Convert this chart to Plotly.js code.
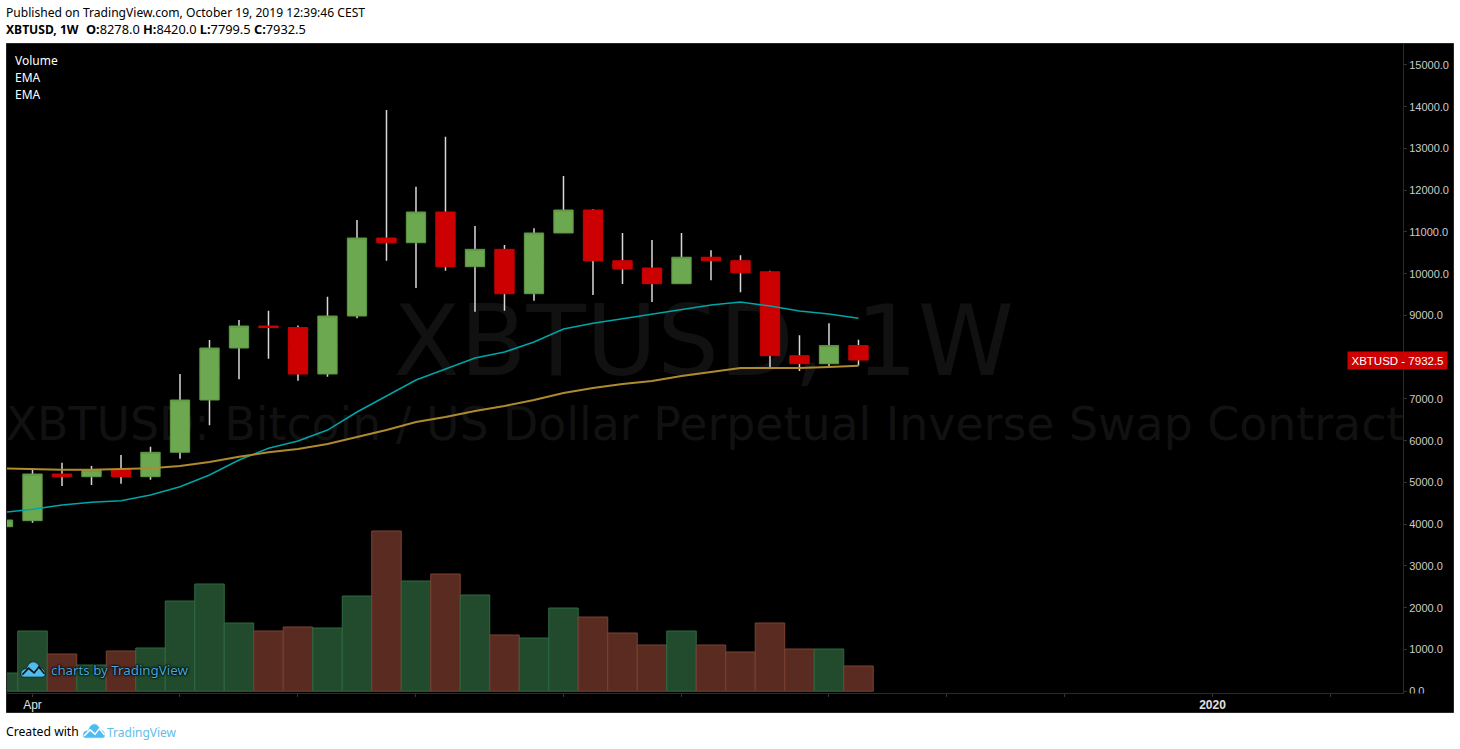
<!DOCTYPE html>
<html>
<head>
<meta charset="utf-8">
<script src="https://cdn.plot.ly/plotly-3.0.1.min.js"></script>
<style>html,body{margin:0;padding:0;background:#fff}</style>
</head>
<body>
<div id="chart" style="width:1460px;height:749px"></div>
<script>
const weeks = ["2019-03-25","2019-04-01","2019-04-08","2019-04-15","2019-04-22","2019-04-29","2019-05-06","2019-05-13","2019-05-20","2019-05-27","2019-06-03","2019-06-10","2019-06-17","2019-06-24","2019-07-01","2019-07-08","2019-07-15","2019-07-22","2019-07-29","2019-08-05","2019-08-12","2019-08-19","2019-08-26","2019-09-02","2019-09-09","2019-09-16","2019-09-23","2019-09-30","2019-10-07","2019-10-14"];
const opens  = [3940,4084,5202,5138,5298,5138,5722,6975,8220,8747,8710,7598,8987,10855,10742,11478,10168,10584,9521,10975,11526,10311,10136,9761,10395,10311,10046,8036,7844,8278];
const highs  = [4100,5346,5473,5394,5657,5856,7598,8412,8891,9114,8760,9449,11286,13921,12084,13281,11143,10687,11087,12340,11545,10976,10806,10976,10563,10443,10070,8527,8815,8420];
const lows   = [3940,4036,4915,4939,4970,5066,5569,6371,7473,7964,7437,7533,8934,10311,9660,10072,9090,9114,9353,10975,9490,9753,9320,9761,9844,9557,7749,7667,7773,7799.5];
const closes = [4100,5202,5138,5298,5138,5722,6975,8220,8747,8710,7598,8987,10855,10742,11478,10168,10584,9521,10975,11526,10311,10113,9761,10395,10311,10024,8036,7844,8278,7932.5];
const volumes = [436,1442,891,628,963,1035,2160,2568,1634,1442,1538,1514,2280,3837,2640,2807,2304,1346,1274,1993,1777,1394,1107,1442,1107,939,1634,1011,1011,604];
const emaFast = [4280,4357,4460,4525,4563,4699,4898,5178,5538,5818,5993,6256,6687,7071,7454,7717,7981,8124,8364,8675,8812,8922,9035,9138,9250,9322,9226,9106,9035,8932];
const emaSlow = [5339,5315,5305,5305,5315,5339,5394,5490,5617,5722,5801,5921,6089,6256,6448,6568,6711,6831,6975,7142,7262,7358,7430,7550,7645,7741,7741,7741,7765,7796];
const dateTicks = ["2019-04-01","2019-05-06","2019-06-03","2019-07-01","2019-08-05","2019-09-02","2019-10-07","2019-11-04","2019-12-02","2020-01-06","2020-02-03"];
const dateLabels = ["Apr","","","","","","","","","<b>2020</b>",""];
const priceTicks = [0,1000,2000,3000,4000,5000,6000,7000,9000,10000,11000,12000,13000,14000,15000];

const GREEN="#6BA84F", GREEN_EDGE="#5E9745", RED="#CC0000";
const L=7,R=1403,T=44,B=693;
const px=v=>(v-L)/(R-L), py=v=>(B-v)/(B-T);
const up=closes.map((c,i)=>c>=opens[i]);
const mid=closes.map((c,i)=>(c+opens[i])/2);

const icon=(line)=>"data:image/svg+xml,"+encodeURIComponent(
 '<svg xmlns="http://www.w3.org/2000/svg" viewBox="0 0 33 20"><path fill="#4DBDF0" stroke="'+line+'" stroke-width="1" d="M1 15C1 11 4 9 8 9C10 4 13 1 17 1C21 1 24 4 25 8C29 8 32 11 32 15C32 18 30 19 28 19L5 19C3 19 1 18 1 15Z"/><path fill="none" stroke="'+line+'" stroke-width="2" d="M3 16L11 8.5L18 14L24 7L31 15"/></svg>');

const traces=[
 {type:"bar",x:weeks,y:volumes,marker:{color:up.map(u=>u?"#224A2D":"#5A2B21"),line:{color:up.map(u=>u?"#2D6A40":"#7A4234"),width:1}},hoverinfo:"y"},
 {type:"candlestick",x:weeks,open:mid,close:mid,high:highs,low:lows,whiskerwidth:0,
  increasing:{line:{color:"#D8D8D8",width:1.5},fillcolor:"rgba(0,0,0,0)"},decreasing:{line:{color:"#D8D8D8",width:1.5},fillcolor:"rgba(0,0,0,0)"},hoverinfo:"skip"},
 {type:"candlestick",x:weeks,open:opens,close:closes,
  high:opens.map((o,i)=>Math.max(o,closes[i])),low:opens.map((o,i)=>Math.min(o,closes[i])),whiskerwidth:0,
  increasing:{line:{color:GREEN_EDGE,width:1},fillcolor:GREEN},decreasing:{line:{color:RED,width:1},fillcolor:RED}},
 {type:"scatter",mode:"lines",x:weeks,y:emaFast,line:{color:"#00A5A8",width:1.5},hoverinfo:"y"},
 {type:"scatter",mode:"lines",x:weeks,y:emaSlow,line:{color:"#AE8B2E",width:2},hoverinfo:"y"}
];

const UI="'Noto Sans','Open Sans',sans-serif";
const note=(text,x,y,size,color,extra)=>Object.assign({text,xref:"paper",yref:"paper",x:px(x),y:py(y),xanchor:"left",yanchor:"middle",showarrow:false,borderpad:0,font:{family:UI,size,color}},extra||{});

const annotations=[
 note("Published on TradingView.com, October 19, 2019 12:39:46 CEST",5,12.5,12.08,"#000"),
 note("<b>XBTUSD, 1W</b>",5,29.5,12.1,"#000"),
 note("<b>O:</b>8278.0 <b>H:</b>8420.0 <b>L:</b>7799.5 <b>C:</b>7932.5",85,29.5,12.8,"#000"),
 note("Volume",14,60.5,12,"#fff"),
 note("EMA",14,77.5,12,"#fff"),
 note("EMA",14,94.5,12,"#fff"),
 note("charts by TradingView",50,670,13.3,"#45A8D8",{font:{family:UI,size:13.3,color:"#45A8D8",shadow:"0 0 2px #000, 0 0 2px #000, 0 0 3px #000"}}),
 note("Created with",5,731.5,12.2,"#000"),
 note("TradingView",106,732,12,"#5FBDE8"),
 {text:"XBTUSD - 7932.5",xref:"paper",yref:"y",x:px(1397.5),y:7932.5,xanchor:"center",yanchor:"middle",showarrow:false,bgcolor:"#CC0000",width:97,height:15,borderpad:1,font:{family:"'Liberation Sans',Arial,sans-serif",size:11.5,color:"#fff"}}
];

const wm=(text,x0,x1,y0,y1,size)=>({type:"rect",xref:"paper",yref:"paper",x0:px(x0),x1:px(x1),y0:py(y1),y1:py(y0),layer:"below",line:{width:0},fillcolor:"rgba(0,0,0,0)",
  label:{text,textposition:"middle center",font:{family:"'DejaVu Sans',sans-serif",size,color:"#111111"}}});

const layout={
 width:1460,height:749,autosize:false,showlegend:false,
 margin:{l:L,r:1460-R,t:T,b:749-B,pad:0},
 paper_bgcolor:"#fff",plot_bgcolor:"#000",
 bargap:0,boxmode:"overlay",boxgap:0.345,boxgroupgap:0,
 xaxis:{type:"date",range:["2019-03-25 22:48","2020-02-20 05:00"],rangeslider:{visible:false},showgrid:false,zeroline:false,
   tickmode:"array",tickvals:dateTicks,ticktext:dateLabels,ticks:"outside",ticklen:3,tickwidth:1,tickcolor:"#333",
   showline:true,linecolor:"#2A2A2A",linewidth:1,tickangle:0,ticklabelstandoff:-2,
   tickfont:{family:"'Liberation Sans',Arial,sans-serif",size:12,color:"#E0E0E0"}},
 yaxis:{side:"right",range:[-43,15502],showgrid:false,zeroline:false,tickmode:"array",tickvals:priceTicks,tickformat:".1f",
   ticks:"outside",ticklen:3,tickwidth:1,tickcolor:"#333",showline:true,linecolor:"#2A2A2A",linewidth:1,
   tickfont:{family:"'Liberation Sans',Arial,sans-serif",size:11,color:"#CCCCCC"}},
 annotations,
 images:[
  {source:icon("#111"),xref:"paper",yref:"paper",x:px(20),y:py(661),sizex:px(46)-px(20),sizey:py(661)-py(678),xanchor:"left",yanchor:"top",sizing:"stretch",layer:"above"},
  {source:icon("#fff"),xref:"paper",yref:"paper",x:px(82),y:py(723),sizex:px(106)-px(82),sizey:py(723)-py(739),xanchor:"left",yanchor:"top",sizing:"stretch",layer:"above"}
 ],
 shapes:[
  {type:"rect",xref:"paper",yref:"paper",x0:px(6.5),x1:px(1453.5),y0:py(712.5),y1:py(43.5),layer:"below",fillcolor:"#000",line:{color:"#262626",width:1}},
  wm("XBTUSD, 1W",4,1403,287,382,97.3),
  wm("XBTUSD: Bitcoin / US Dollar Perpetual Inverse Swap Contract",7,1403,394,449,45.8),
  {type:"rect",xref:"paper",yref:"paper",x0:px(1404),x1:px(1453),y0:py(712),y1:py(693.5),layer:"above",fillcolor:"#000",line:{width:0}}
 ]
};
Plotly.newPlot("chart",traces,layout,{staticPlot:true,displayModeBar:false});
</script>
</body>
</html>
